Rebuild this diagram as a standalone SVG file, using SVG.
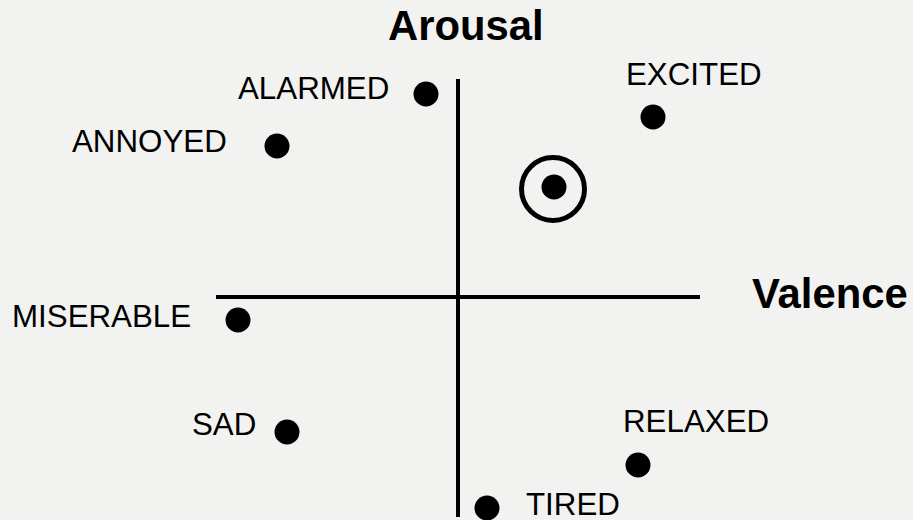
<svg xmlns="http://www.w3.org/2000/svg" width="913" height="520" viewBox="0 0 913 520">
<style>
.lbl{font-family:"Liberation Sans",Arial,sans-serif;font-size:31.3px;fill:#000}
.ax{font-family:"Liberation Sans",Arial,sans-serif;font-size:41.8px;font-weight:bold;fill:#000}
.axis{stroke:#000;stroke-width:4;fill:none}
.dot{fill:#000}
</style>
<rect width="913" height="520" fill="#f2f2f1"/>
<g id="axes">
<line class="axis" x1="458" y1="79" x2="458" y2="517"/>
<line class="axis" x1="216" y1="297" x2="700" y2="297"/>
</g>
<g id="arousal"><text class="ax" x="388" y="40">Arousal</text></g>
<g id="valence"><text class="ax" x="752" y="308">Valence</text></g>
<g id="alarmed"><text class="lbl" x="238" y="99">ALARMED</text><circle class="dot" cx="426" cy="94" r="12.5"/></g>
<g id="annoyed"><text class="lbl" x="72" y="152">ANNOYED</text><circle class="dot" cx="277" cy="146" r="12.5"/></g>
<g id="excited"><text class="lbl" x="626" y="85">EXCITED</text><circle class="dot" cx="653" cy="117" r="12.5"/></g>
<g id="miserable"><text class="lbl" x="12" y="327">MISERABLE</text><circle class="dot" cx="238" cy="320" r="12.5"/></g>
<g id="sad"><text class="lbl" x="192" y="435">SAD</text><circle class="dot" cx="287" cy="432" r="12.5"/></g>
<g id="relaxed"><text class="lbl" x="623" y="432">RELAXED</text><circle class="dot" cx="638" cy="465" r="12.5"/></g>
<g id="tired"><text class="lbl" x="526" y="515">TIRED</text><circle class="dot" cx="487" cy="508" r="12.5"/></g>
<g id="target"><circle cx="553" cy="189" r="31.5" fill="none" stroke="#000" stroke-width="5"/><circle class="dot" cx="554" cy="187" r="12.5"/></g>
</svg>
